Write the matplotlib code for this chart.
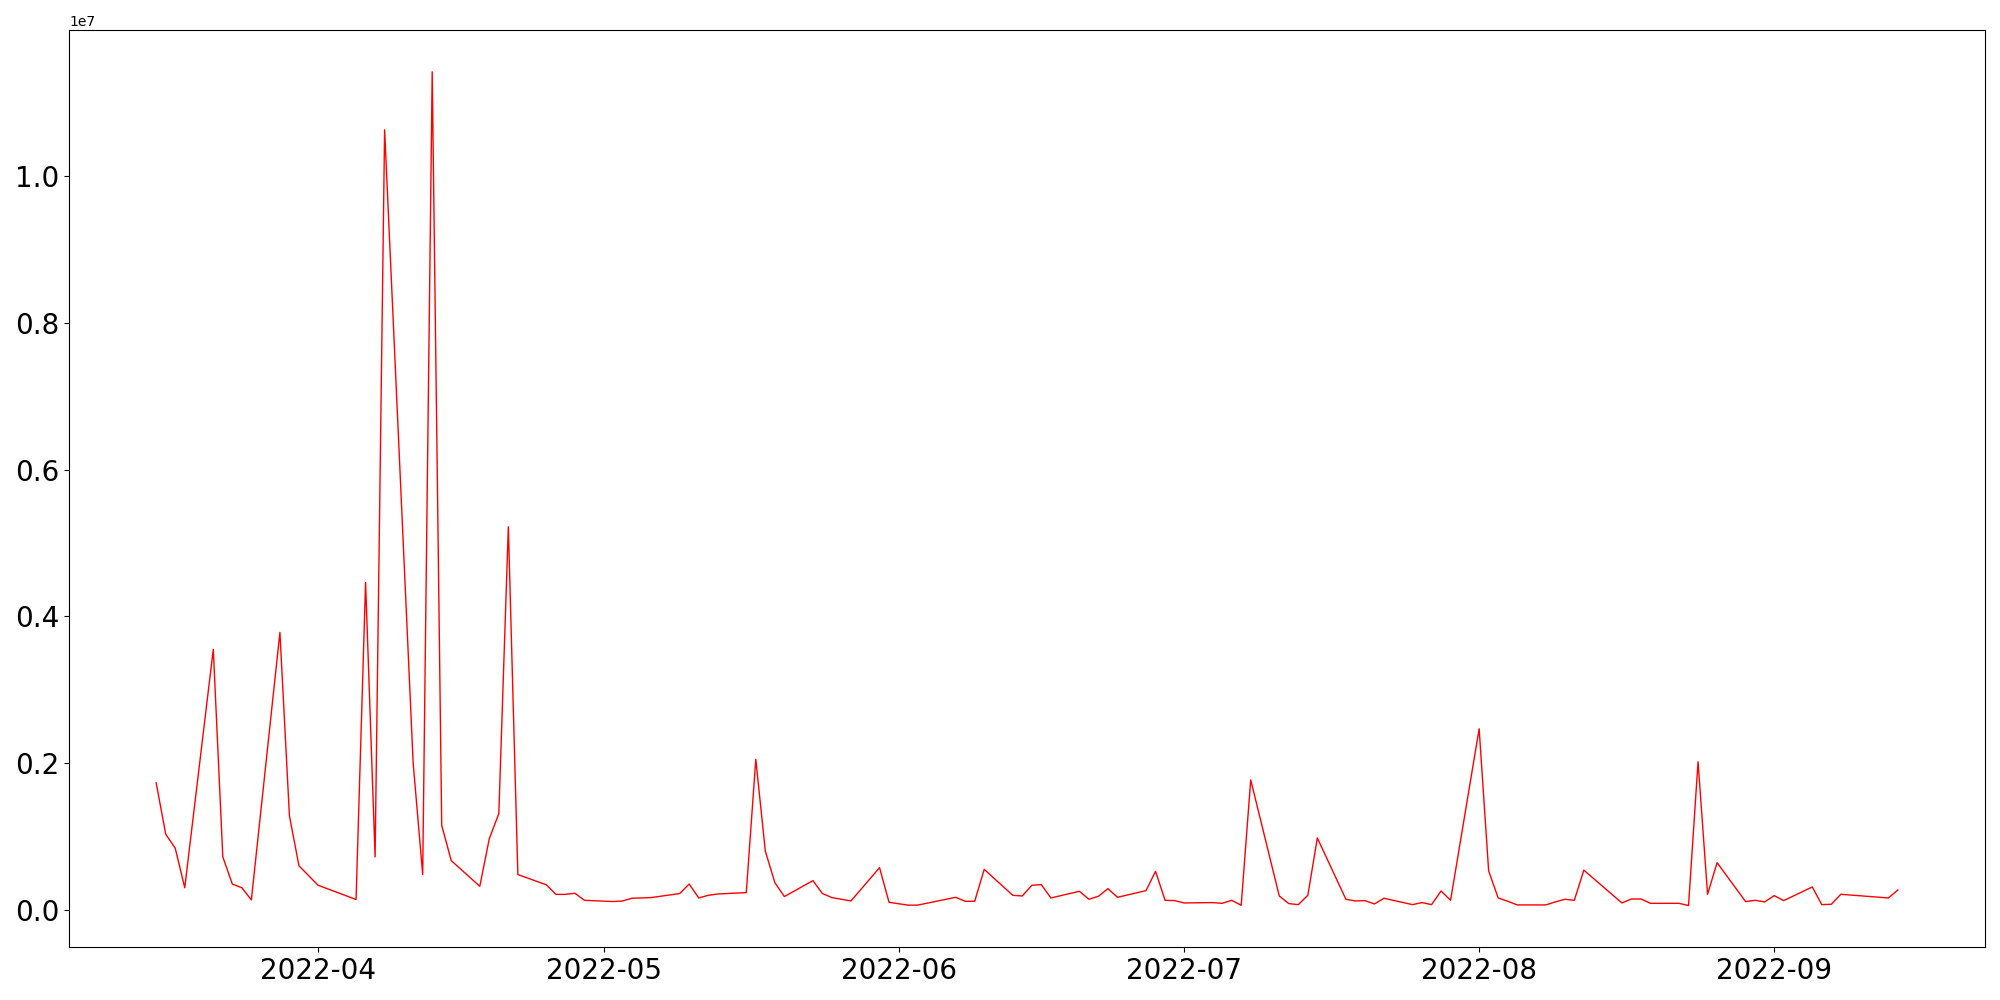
import matplotlib
matplotlib.use("Agg")
import matplotlib.pyplot as plt
import pandas as pd

dates = [
    "2022-03-15", "2022-03-16", "2022-03-17", "2022-03-18", "2022-03-21", "2022-03-22",
    "2022-03-23", "2022-03-24", "2022-03-25", "2022-03-28", "2022-03-29", "2022-03-30",
    "2022-04-01", "2022-04-05", "2022-04-06", "2022-04-07", "2022-04-08", "2022-04-11",
    "2022-04-12", "2022-04-13", "2022-04-14", "2022-04-15", "2022-04-18", "2022-04-19",
    "2022-04-20", "2022-04-21", "2022-04-22", "2022-04-25", "2022-04-26", "2022-04-27",
    "2022-04-28", "2022-04-29", "2022-05-02", "2022-05-03", "2022-05-04", "2022-05-06",
    "2022-05-09", "2022-05-10", "2022-05-11", "2022-05-12", "2022-05-13", "2022-05-16",
    "2022-05-17", "2022-05-18", "2022-05-19", "2022-05-20", "2022-05-23", "2022-05-24",
    "2022-05-25", "2022-05-27", "2022-05-30", "2022-05-31", "2022-06-02", "2022-06-03",
    "2022-06-07", "2022-06-08", "2022-06-09", "2022-06-10", "2022-06-13", "2022-06-14",
    "2022-06-15", "2022-06-16", "2022-06-17", "2022-06-20", "2022-06-21", "2022-06-22",
    "2022-06-23", "2022-06-24", "2022-06-27", "2022-06-28", "2022-06-29", "2022-06-30",
    "2022-07-01", "2022-07-04", "2022-07-05", "2022-07-06", "2022-07-07", "2022-07-08",
    "2022-07-11", "2022-07-12", "2022-07-13", "2022-07-14", "2022-07-15", "2022-07-18",
    "2022-07-19", "2022-07-20", "2022-07-21", "2022-07-22", "2022-07-25", "2022-07-26",
    "2022-07-27", "2022-07-28", "2022-07-29", "2022-08-01", "2022-08-02", "2022-08-03",
    "2022-08-04", "2022-08-05", "2022-08-08", "2022-08-09", "2022-08-10", "2022-08-11",
    "2022-08-12", "2022-08-16", "2022-08-17", "2022-08-18", "2022-08-19", "2022-08-22",
    "2022-08-23", "2022-08-24", "2022-08-25", "2022-08-26", "2022-08-29", "2022-08-30",
    "2022-08-31", "2022-09-01", "2022-09-02", "2022-09-05", "2022-09-06", "2022-09-07",
    "2022-09-08", "2022-09-13", "2022-09-14",
]

values_millions = [
    1.73, 1.03, 0.84, 0.30, 3.55, 0.72,
    0.35, 0.30, 0.135, 3.78, 1.28, 0.60,
    0.335, 0.14, 4.46, 0.72, 10.63, 2.00,
    0.48, 11.42, 1.15, 0.67, 0.32, 0.97,
    1.31, 5.22, 0.48, 0.34, 0.21, 0.21,
    0.225, 0.129, 0.112, 0.12, 0.157, 0.166,
    0.221, 0.351, 0.161, 0.197, 0.215, 0.234,
    2.05, 0.80, 0.37, 0.18, 0.397, 0.221,
    0.166, 0.12, 0.574, 0.102, 0.063, 0.063,
    0.170, 0.116, 0.116, 0.551, 0.197, 0.188,
    0.334, 0.343, 0.161, 0.252, 0.143, 0.184,
    0.288, 0.170, 0.261, 0.524, 0.129, 0.125,
    0.093, 0.098, 0.088, 0.129, 0.061, 1.77,
    0.188, 0.084, 0.070, 0.197, 0.978, 0.143,
    0.120, 0.125, 0.079, 0.157, 0.070, 0.098,
    0.070, 0.256, 0.129, 2.467, 0.529, 0.161,
    0.116, 0.066, 0.066, 0.107, 0.143, 0.129,
    0.540, 0.093, 0.147, 0.147, 0.088, 0.088,
    0.057, 2.017, 0.211, 0.642, 0.111, 0.129,
    0.107, 0.193, 0.125, 0.311, 0.070, 0.075,
    0.211, 0.161, 0.270,
]

x = pd.to_datetime(dates)
y = [v * 1e6 for v in values_millions]

fig, ax = plt.subplots(figsize=(20, 10), dpi=100)
ax.plot(x, y, color="red", linewidth=1.0)
ax.tick_params(axis="both", labelsize=20)
fig.tight_layout()
fig.savefig("out.png", dpi=100)
